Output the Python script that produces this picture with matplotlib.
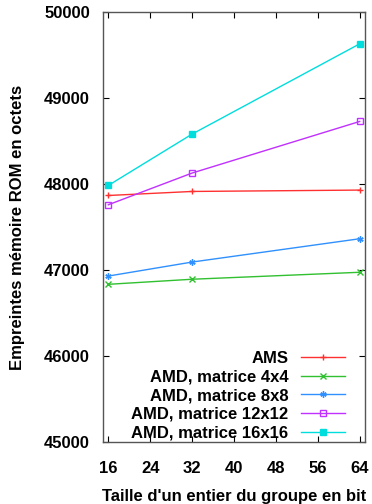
import matplotlib
matplotlib.use('Agg')
import matplotlib.pyplot as plt

plt.rcParams['font.family'] = ['Liberation Sans', 'DejaVu Sans']
plt.rcParams['font.weight'] = 'bold'

# Taille d'un entier (bits) et empreintes ROM (octets)
taille = [16, 32, 64]
ams = [47867, 47914, 47930]
amd_4x4 = [46834, 46893, 46974]
amd_8x8 = [46930, 47093, 47364]
amd_12x12 = [47759, 48128, 48728]
amd_16x16 = [47984, 48581, 49631]

series = [
    ('AMS', ams, '#ff3030', '+', 'none'),
    ('AMD, matrice 4x4', amd_4x4, '#30c030', 'x', 'none'),
    ('AMD, matrice 8x8', amd_8x8, '#3090ff', (6, 2, 0), 'none'),
    ('AMD, matrice 12x12', amd_12x12, '#c030ff', 's', 'none'),
    ('AMD, matrice 16x16', amd_16x16, '#00dddd', 's', 'full'),
]

fig = plt.figure(figsize=(3.72, 5.04), dpi=100)
ax = fig.add_axes([0.277, 0.123, 0.704, 0.853])

for label, vals, color, marker, fill in series:
    ax.plot(taille, vals, color=color, lw=1.0, marker=marker, ms=4.5,
            mew=1.0, fillstyle=fill, label=label)

ax.set_xlim(15, 65)
ax.set_ylim(45000, 50000)
ax.set_xticks([16, 24, 32, 40, 48, 56, 64])
ax.set_yticks([45000, 46000, 47000, 48000, 49000, 50000])
ax.tick_params(direction='in', top=True, right=True, length=4, width=0.8,
               labelsize=12, colors='black')
ax.tick_params(axis='x', pad=14)
ax.tick_params(axis='y', pad=9.5)
for s in ax.spines.values():
    s.set_color('#555555')
    s.set_linewidth(1.0)

ax.set_xlabel("Taille d'un entier du groupe en bit", fontsize=12,
              fontweight='bold', labelpad=9)
ax.set_ylabel('Empreintes mémoire ROM en octets', fontsize=12,
              fontweight='bold', labelpad=14)

leg = ax.legend(loc='lower right', bbox_to_anchor=(0.93, 0.0),
                markerfirst=False, frameon=False, fontsize=12,
                handlelength=2.65, handletextpad=0.75, labelspacing=0.22,
                borderpad=0.1, borderaxespad=0.0)

fig.savefig('out.png', dpi=100)
